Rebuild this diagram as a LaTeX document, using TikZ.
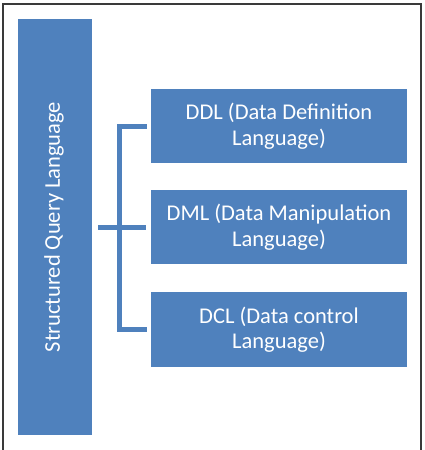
\documentclass[tikz,border=0pt]{standalone}
\usepackage{fontspec}
\setmainfont{Carlito}
\definecolor{boxblue}{HTML}{4F81BD}
\definecolor{framegray}{HTML}{3A3A3A}
\begin{document}
\begin{tikzpicture}[x=1pt,y=-1pt,
  txt/.style={text=white, font=\fontsize{22.5}{25.5}\selectfont},
  block/.style={fill=boxblue, draw=none, inner sep=0pt, align=center, txt},
  item/.style={block, minimum width=256pt, minimum height=74.5pt},
  link/.style={draw=boxblue, line width=5pt}
  ]
\useasboundingbox (0,0) rectangle (424,450);
\fill[white] (0,0) rectangle (424,450);
\draw[framegray, line width=2pt] (2.5,452) -- (2.5,4) -- (421,4) -- (421,452);
\node[block, minimum width=74pt, minimum height=416pt] (sql) at (55,227) {};
\node[txt, rotate=90, inner sep=0pt] (sqltext) at (54,227) {Structured Query Language};
\node[item] (ddl) at (279,126) {DDL (Data Definition\\Language)};
\node[item] (dml) at (279,227) {DML (Data Manipulation\\Language)};
\node[item] (dcl) at (279,329.5) {DCL (Data control\\Language)};
\draw[link] ([xshift=-4pt]ddl.west) -- ([xshift=-31pt]ddl.west) |- ([xshift=-4pt]dcl.west);
\draw[link, shorten <=6pt, shorten >=5pt] (sql.east) -- (dml.west);
\end{tikzpicture}
\end{document}
